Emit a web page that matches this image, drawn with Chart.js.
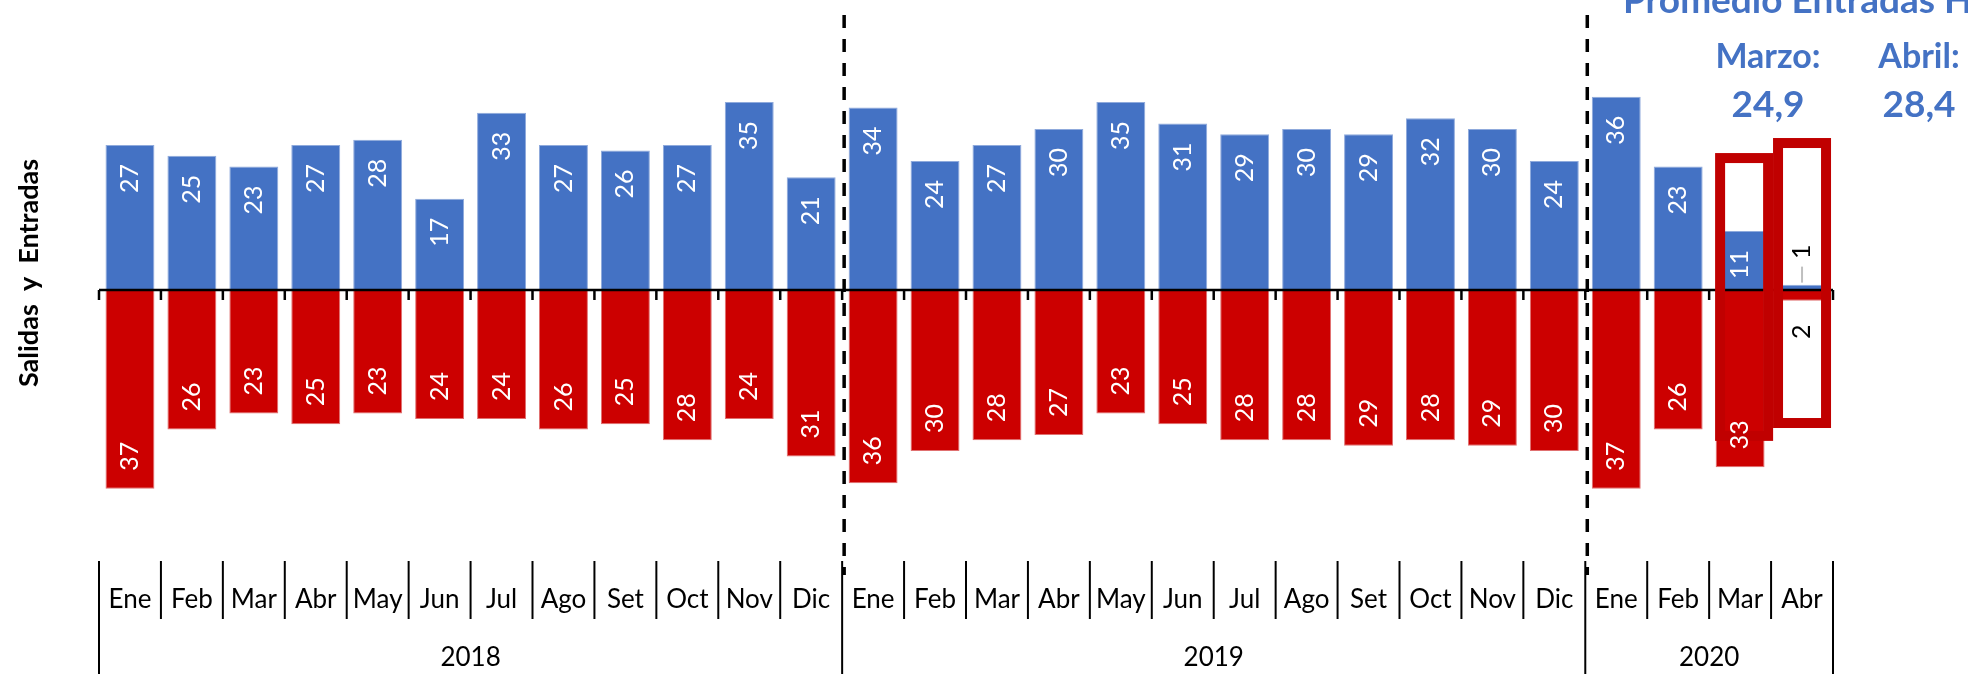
<!DOCTYPE html>
<html>
<head>
<meta charset="utf-8">
<script src="https://cdn.jsdelivr.net/npm/chart.js@4.4.1/dist/chart.umd.min.js"></script>
<style>
  html, body { margin: 0; padding: 0; background: #fff; }
  #wrap { width: 1968px; height: 674px; position: relative; }
</style>
</head>
<body>
<div id="wrap"><canvas id="chart"></canvas></div>
<script>
'use strict';

var years = ['2018', '2019', '2020'];
var monthsPerYear = [12, 12, 4];
var months = [
  'Ene', 'Feb', 'Mar', 'Abr', 'May', 'Jun', 'Jul', 'Ago', 'Set', 'Oct', 'Nov', 'Dic',
  'Ene', 'Feb', 'Mar', 'Abr', 'May', 'Jun', 'Jul', 'Ago', 'Set', 'Oct', 'Nov', 'Dic',
  'Ene', 'Feb', 'Mar', 'Abr'
];
var entradas = [
  27, 25, 23, 27, 28, 17, 33, 27, 26, 27, 35, 21,
  34, 24, 27, 30, 35, 31, 29, 30, 29, 32, 30, 24,
  36, 23, 11, 1
];
var salidas = [
  37, 26, 23, 25, 23, 24, 24, 26, 25, 28, 24, 31,
  36, 30, 28, 27, 23, 25, 28, 28, 29, 28, 29, 30,
  37, 26, 33, 2
];
var promedioTitle = 'Promedio Entradas Históricas';
var promedioMeses = ['Marzo:', 'Abril:'];
var promedioValores = ['24,9', '28,4'];
var marcados = [26, 27];

var BLUE = '#4472C4';
var RED = '#CC0000';
var BOX = '#C00000';
var FONT = 'Lato, "Liberation Sans", sans-serif';

var overlay = {
  id: 'overlay',
  afterDatasetsDraw: function (chart) {
    var ctx = chart.ctx;
    var area = chart.chartArea;
    var ys = chart.scales.y;
    var n = months.length;
    var step = (area.right - area.left) / n;
    var zero = ys.getPixelForValue(0);
    var i, bx;

    ctx.save();

    // eje horizontal y marcas
    ctx.strokeStyle = '#000';
    ctx.lineWidth = 2.5;
    ctx.beginPath();
    ctx.moveTo(area.left, zero);
    ctx.lineTo(area.right, zero);
    ctx.stroke();
    for (i = 0; i <= n; i++) {
      bx = area.left + i * step;
      ctx.beginPath();
      ctx.moveTo(bx, zero);
      ctx.lineTo(bx, zero + 10);
      ctx.stroke();
    }

    // recuadros rojos (Mar y Abr 2020)
    var boxes = [[25.5, -28.1], [28.3, -25.7]];
    ctx.strokeStyle = BOX;
    ctx.lineWidth = 10;
    marcados.forEach(function (idx, k) {
      var bar = chart.getDatasetMeta(0).data[idx];
      var top = ys.getPixelForValue(boxes[k][0]);
      var bot = ys.getPixelForValue(boxes[k][1]);
      ctx.strokeRect(bar.x - 24 + (k === 0 ? 4 : 0), top + 5, 48, bot - top - 10);
    });

    // etiquetas de datos
    ctx.font = '25px ' + FONT;
    ctx.textBaseline = 'middle';
    [0, 1].forEach(function (d) {
      var vals = d === 0 ? entradas : salidas;
      chart.getDatasetMeta(d).data.forEach(function (bar, j) {
        var h = Math.abs(bar.base - bar.y);
        var txt = String(vals[j]);
        ctx.save();
        if (h > 25) {
          ctx.fillStyle = '#fff';
          ctx.translate(bar.x, d === 0 ? bar.y + 19 : bar.y - 18);
          ctx.rotate(-Math.PI / 2);
          ctx.textAlign = d === 0 ? 'right' : 'left';
          ctx.fillText(txt, 0, 0);
        } else {
          if (d === 0) {
            ctx.strokeStyle = '#BFBFBF';
            ctx.lineWidth = 2;
            ctx.beginPath();
            ctx.moveTo(bar.x, bar.y - 2);
            ctx.lineTo(bar.x, bar.y - 18);
            ctx.stroke();
          }
          ctx.fillStyle = '#000';
          ctx.translate(bar.x, d === 0 ? bar.y - 33 : bar.y + 31);
          ctx.rotate(-Math.PI / 2);
          ctx.textAlign = 'center';
          ctx.fillText(txt, 0, 0);
        }
        ctx.restore();
      });
    });

    // líneas discontinuas entre años
    ctx.strokeStyle = '#000';
    ctx.lineWidth = 3.5;
    ctx.setLineDash([13, 11]);
    var acc = 0;
    for (i = 0; i < years.length - 1; i++) {
      acc += monthsPerYear[i];
      bx = area.left + acc * step + 2;
      ctx.beginPath();
      ctx.moveTo(bx, 15);
      ctx.lineTo(bx, 575);
      ctx.stroke();
    }
    ctx.setLineDash([]);

    // eje de categorías en dos niveles
    ctx.lineWidth = 2;
    ctx.fillStyle = '#000';
    ctx.font = '26px ' + FONT;
    ctx.textAlign = 'center';
    ctx.textBaseline = 'middle';
    for (i = 0; i < n; i++) {
      ctx.fillText(months[i], area.left + (i + 0.5) * step, 600);
    }
    var yearEdges = [0];
    acc = 0;
    monthsPerYear.forEach(function (m) { acc += m; yearEdges.push(acc); });
    for (i = 0; i <= n; i++) {
      bx = area.left + i * step;
      var full = yearEdges.indexOf(i) >= 0;
      ctx.beginPath();
      ctx.moveTo(bx, 561);
      ctx.lineTo(bx, full ? 674 : 619);
      ctx.stroke();
    }
    years.forEach(function (yr, k) {
      var cx = area.left + (yearEdges[k] + yearEdges[k + 1]) / 2 * step;
      ctx.fillText(yr, cx, 658);
    });

    // título del eje vertical
    ctx.save();
    ctx.translate(29, 273);
    ctx.rotate(-Math.PI / 2);
    ctx.font = 'bold 27px ' + FONT;
    ctx.fillText('Salidas  y  Entradas', 0, 0);
    ctx.restore();

    // promedios arriba a la derecha
    ctx.fillStyle = BLUE;
    ctx.textBaseline = 'alphabetic';
    ctx.font = 'bold 37px ' + FONT;
    ctx.textAlign = 'left';
    ctx.fillText(promedioTitle, 1623, 13);
    ctx.textAlign = 'center';
    var cols = [1768, 1919];
    promedioMeses.forEach(function (t, k) {
      ctx.font = 'bold 34px ' + FONT;
      ctx.fillText(t, cols[k], 68);
      ctx.font = 'bold 37px ' + FONT;
      ctx.fillText(promedioValores[k], cols[k], 117);
    });

    ctx.restore();
  }
};

new Chart(document.getElementById('chart'), {
  type: 'bar',
  data: {
    labels: months,
    datasets: [
      {
        label: 'Entradas',
        data: entradas,
        backgroundColor: BLUE,
        borderColor: '#8FAADC',
        borderWidth: 1
      },
      {
        label: 'Salidas',
        data: salidas.map(function (v) { return -v; }),
        backgroundColor: RED,
        borderColor: '#E07070',
        borderWidth: 1
      }
    ]
  },
  options: {
    responsive: true,
    maintainAspectRatio: false,
    animation: false,
    layout: { padding: { left: 99, right: 135, top: 21.5, bottom: 169.2 } },
    datasets: { bar: { barPercentage: 0.79, categoryPercentage: 1 } },
    plugins: { legend: { display: false }, tooltip: { enabled: false } },
    scales: {
      x: { display: false, stacked: true },
      y: { display: false, stacked: true, min: -40, max: 50 }
    }
  },
  plugins: [overlay]
});
</script>
</body>
</html>
